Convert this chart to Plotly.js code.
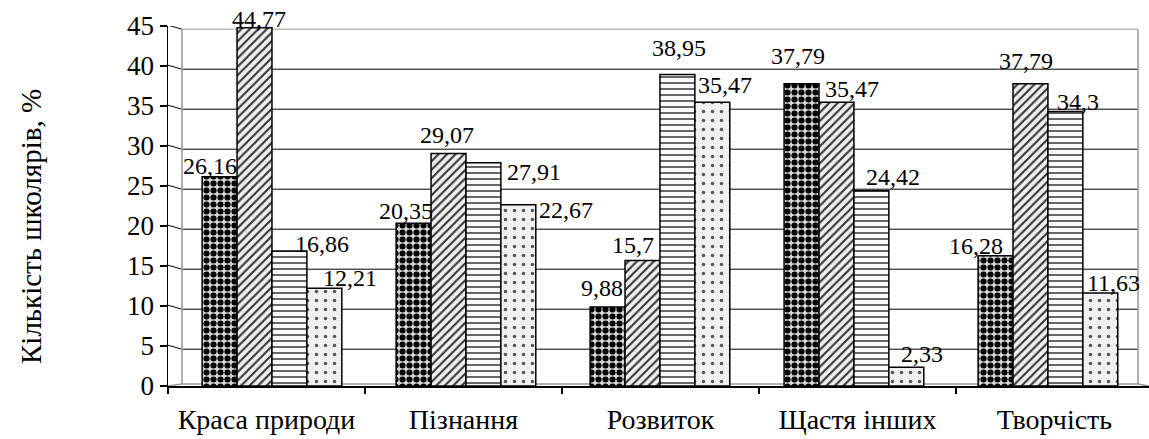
<!DOCTYPE html>
<html>
<head>
<meta charset="utf-8">
<script src="https://cdn.plot.ly/plotly-3.0.1.min.js"></script>
<style>html,body{margin:0;padding:0;background:#fff;}#chart{width:1149px;height:439px;}</style>
</head>
<body>
<div id="chart"></div>
<script>
const categories = ["Краса природи", "Пізнання", "Розвиток", "Щастя інших", "Творчість"];
const series1 = [26.16, 20.35, 9.88, 37.79, 16.28];
const series2 = [44.77, 29.07, 15.7, 35.47, 37.79];
const series3 = [16.86, 27.91, 38.95, 24.42, 34.3];
const series4 = [12.21, 22.67, 35.47, 2.33, 11.63];
const yTicks = [0, 5, 10, 15, 20, 25, 30, 35, 40, 45];

// label nudges in pixels [dx, dy] relative to bar centre / bar top (layout only)
const labelNudge = [
  [[-10, 11], [-8, 12], [-6, 19], [-4, 28], [-20, 10]],
  [[4, 9], [-2, 18], [-9, 15], [16, 13], [-4, 23]],
  [[33, 7], [51, -9], [2, 26], [22, 14], [13, 10]],
  [[26, 10], [48, -5], [13, 17], [16, 13], [13, 10]]
];

const fmt = v => String(v).replace('.', ',');
const font = "Liberation Serif";

const patterns = [
  {shape: ".", fgcolor: "#000", bgcolor: "#d6d6d6", size: 7, solidity: 0.6},
  {shape: "/", fgcolor: "#333", bgcolor: "#efefef", size: 6, solidity: 0.35},
  {shape: "-", fgcolor: "#555", bgcolor: "#fafafa", size: 6, solidity: 0.3},
  {shape: ".", fgcolor: "#555", bgcolor: "#f0f0f0", size: 9, solidity: 0.12}
];

const allSeries = [series1, series2, series3, series4];
const traces = allSeries.map((s, i) => ({
  type: "bar",
  x: categories,
  y: s,
  xaxis: "x2",
  name: "s" + (i + 1),
  marker: {color: patterns[i].bgcolor, pattern: patterns[i], line: {color: "#000", width: 1.5}},
  hoverinfo: "skip"
}));
// invisible carrier so the front category axis knows its categories
traces.push({type: "scatter", x: categories, y: categories.map(() => 0), xaxis: "x", mode: "markers",
  marker: {opacity: 0}, hoverinfo: "skip"});

const L = 168, W = 981, T = 26, H = 360;
const BAR_PX = 0.72 * 194 / 4;
const annotations = [];
allSeries.forEach((s, i) => {
  s.forEach((v, k) => {
    annotations.push({
      xref: "x2", yref: "y", x: categories[k], y: v,
      text: fmt(v), showarrow: false,
      xanchor: "center", yanchor: "middle",
      xshift: (i - 1.5) * BAR_PX + labelNudge[i][k][0],
      yshift: labelNudge[i][k][1],
      font: {family: font, size: 24, color: "#000"}
    });
  });
});
annotations.push({
  text: "Кількість школярів, %", textangle: -90, showarrow: false,
  xref: "paper", yref: "paper", x: (31 - L) / W, y: (T + H - 227) / H,
  xanchor: "center", yanchor: "middle",
  font: {family: font, size: 29, color: "#000"}
});

// back wall & gridlines (layout decoration)
const wx0 = (182 - L) / W, wx1 = (1138 - L) / W;
const shapes = [];
yTicks.slice(1).forEach(v => {
  shapes.push({type: "line", xref: "paper", yref: "y", x0: wx0, x1: wx1, y0: v - 0.4, y1: v - 0.4,
    line: {color: v === 45 ? "#999" : "#000", width: 1}, layer: "below"});
  shapes.push({type: "line", xref: "paper", yref: "y", x0: 0, x1: wx0, y0: v + 0.1, y1: v - 0.4,
    line: {color: "#000", width: 1}, layer: "below"});
});
const grey = {color: "#999", width: 1.5};
shapes.push({type: "line", xref: "paper", yref: "y", x0: wx0, x1: wx0, y0: 0.25, y1: 44.6, line: grey, layer: "below"});
shapes.push({type: "line", xref: "paper", yref: "y", x0: wx1, x1: wx1, y0: 0.25, y1: 44.6, line: grey, layer: "below"});
shapes.push({type: "line", xref: "paper", yref: "y", x0: wx0, x1: wx1, y0: 0.25, y1: 0.25, line: grey, layer: "below"});
shapes.push({type: "line", xref: "paper", yref: "y", x0: 0, x1: wx0, y0: 0, y1: 0.25, line: grey, layer: "below"});
shapes.push({type: "line", xref: "paper", yref: "y", x0: wx1, x1: 1, y0: 0.25, y1: 0, line: grey, layer: "below"});

const layout = {
  width: 1149, height: 439,
  margin: {l: L, r: 0, t: T, b: 439 - T - H},
  paper_bgcolor: "#fff", plot_bgcolor: "#fff",
  showlegend: false,
  barmode: "group",
  bargap: 0.28,
  bargroupgap: 0,
  xaxis: {
    type: "category", range: [-0.5, 4.48], tickson: "boundaries",
    ticks: "outside", ticklen: 6, tickcolor: "#000", tickwidth: 1.5,
    ticklabelstandoff: 8,
    showline: true, linecolor: "#000", linewidth: 1.5,
    showgrid: false, zeroline: false,
    tickfont: {family: font, size: 28, color: "#000"}
  },
  xaxis2: {type: "category", overlaying: "x", range: [-0.536, 4.521], visible: false},
  yaxis: {
    range: [0, 45], tickvals: yTicks, ticktext: yTicks.map(String),
    ticks: "outside", ticklen: 7, tickcolor: "#000", tickwidth: 1.5,
    showline: true, linecolor: "#000", linewidth: 1.5,
    showgrid: false, zeroline: false,
    tickfont: {family: font, size: 27, color: "#000"}
  },
  shapes: shapes,
  annotations: annotations
};

Plotly.newPlot("chart", traces, layout, {displayModeBar: false, staticPlot: true});
</script>
</body>
</html>
